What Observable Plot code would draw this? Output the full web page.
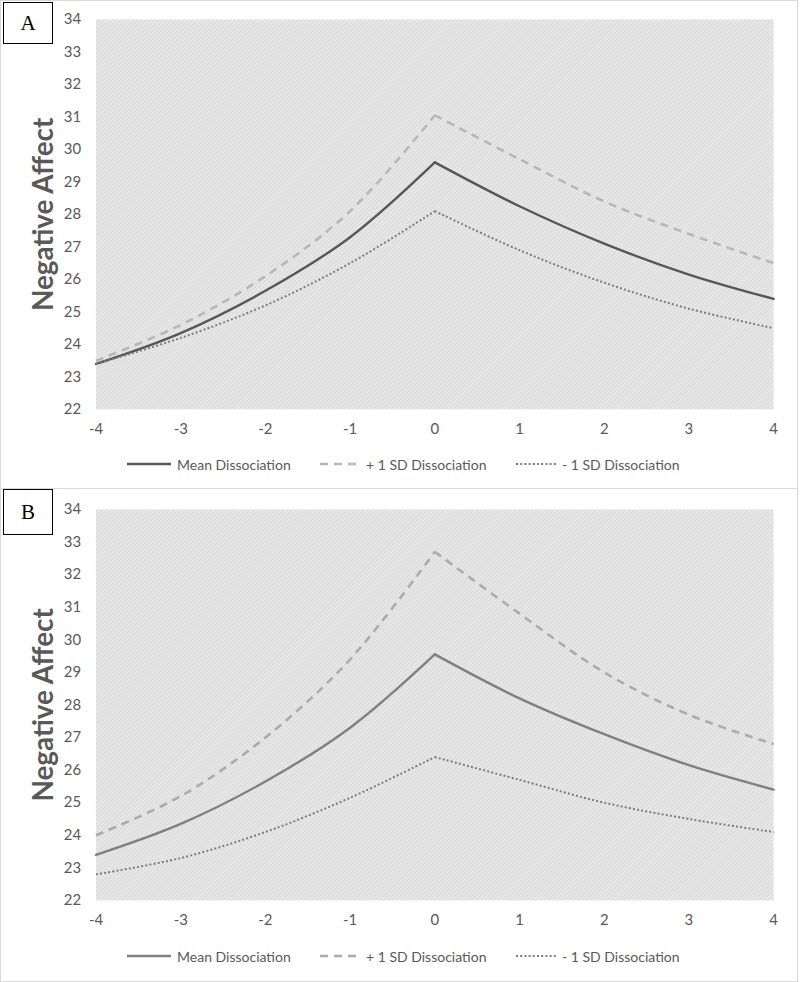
<!DOCTYPE html>
<html>
<head>
<meta charset="utf-8">
<script src="https://cdn.jsdelivr.net/npm/d3@7"></script>
<script src="https://cdn.jsdelivr.net/npm/@observablehq/plot@0.6"></script>
<style>
  html, body { margin: 0; padding: 0; background: #fff; }
  body { width: 800px; height: 982px; position: relative; font-family: Lato, "Open Sans", sans-serif; }
  .panel { position: absolute; left: 0; width: 798px; border: 1px solid #d9d9d9; box-sizing: border-box; background: #fff; }
  .tag { position: absolute; left: 2px; width: 50px; border: 1.3px solid #000; box-sizing: border-box;
         font-family: "Liberation Serif", "DejaVu Serif", serif; font-size: 21px; display: flex; align-items: center; justify-content: center; background: #fff; z-index: 2; }
  .legend { position: absolute; left: 0; width: 800px; font-size: 14px; color: #595959; font-family: Lato, sans-serif; }
  .legend .item { position: absolute; top: 0; display: flex; align-items: center; white-space: nowrap; }
  .legend svg { margin-right: 5px; }
  g[aria-label="y-axis label"] text { font-size: 28px; font-weight: bold; fill: #595959; }
</style>
</head>
<body>
<div id="root"></div>
<script>
// ---- data ----
const xValues = [-4, -3, -2, -1, 0, 1, 2, 3, 4];
const xTickLabels = ["-4", "-3", "-2", "-1", "0", "1", "2", "3", "4"];
const yTicks = [22, 23, 24, 25, 26, 27, 28, 29, 30, 31, 32, 33, 34];
const seriesNames = ["Mean Dissociation", "+ 1 SD Dissociation", "- 1 SD Dissociation"];

const meanA  = [23.4, 24.35, 25.65, 27.3, 29.6, 28.25, 27.1, 26.15, 25.4];
const plusA  = [23.5, 24.6, 26.1, 28.1, 31.05, 29.7, 28.4, 27.4, 26.5];
const minusA = [23.4, 24.2, 25.2, 26.5, 28.1, 26.9, 25.9, 25.1, 24.5];

const meanB  = [23.4, 24.35, 25.65, 27.3, 29.55, 28.2, 27.1, 26.15, 25.4];
const plusB  = [24.0, 25.2, 27.0, 29.4, 32.7, 30.8, 29.0, 27.7, 26.8];
const minusB = [22.8, 23.3, 24.1, 25.15, 26.4, 25.7, 25.0, 24.5, 24.1];

const panelLabels = ["A", "B"];

// ---- helpers ----
function buildRows(seriesArrays) {
  const rows = [];
  seriesArrays.forEach((vals, si) => {
    xValues.forEach((x, i) => {
      // split into left and right branches (shared point at 0) so the peak stays sharp
      if (x <= 0) rows.push({series: seriesNames[si], seg: seriesNames[si] + "L", x, y: vals[i]});
      if (x >= 0) rows.push({series: seriesNames[si], seg: seriesNames[si] + "R", x, y: vals[i]});
    });
  });
  return rows;
}

function hatchDefs(svg, id) {
  const ns = "http://www.w3.org/2000/svg";
  const defs = document.createElementNS(ns, "defs");
  defs.innerHTML = `<pattern id="${id}" patternUnits="userSpaceOnUse" width="3" height="3" patternTransform="rotate(45)">
      <rect width="3" height="3" fill="#e8e8e8"/>
      <rect width="1.2" height="3" fill="#dadada"/>
    </pattern>`;
  svg.insertBefore(defs, svg.firstChild);
}

const styles = [
  { // panel A
    colors: ["#575757", "#b8b8b8", "#7d7d7d"],
    widths: [2.4, 2.6, 2],
    dashes: [null, "8,6", "2,2.2"]
  },
  { // panel B
    colors: ["#808080", "#acacac", "#7d7d7d"],
    widths: [2.4, 2.6, 2],
    dashes: [null, "8,6", "2,2.2"]
  }
];

const panels = [
  {top: 0, height: 489, svgH: 445, mTop: 19, mBottom: 34, legendTop: 464, data: [meanA, plusA, minusA]},
  {top: 488, height: 494, svgH: 447, mTop: 21, mBottom: 33, legendTop: 468, data: [meanB, plusB, minusB]}
];

const root = document.getElementById("root");
panels.forEach((p, pi) => {
  const panel = document.createElement("div");
  panel.className = "panel";
  panel.style.top = p.top + "px";
  panel.style.height = p.height + "px";
  root.appendChild(panel);

  const tag = document.createElement("div");
  tag.className = "tag";
  tag.style.top = (pi === 0 ? 1 : 0) + "px";
  tag.style.height = (pi === 0 ? 42 : 46) + "px";
  tag.textContent = panelLabels[pi];
  panel.appendChild(tag);

  const rows = buildRows(p.data);
  const st = styles[pi];
  const hid = "hatch" + pi;

  const plot = Plot.plot({
    width: 800,
    height: p.svgH,
    marginLeft: 96,
    marginRight: 23,
    marginTop: p.mTop,
    marginBottom: p.mBottom,
    style: {fontFamily: "Lato, 'Open Sans', sans-serif", fontSize: "15px", color: "#595959", background: "transparent", overflow: "visible"},
    x: {domain: [-4, 4]},
    y: {domain: [22, 34]},
    marks: [
      Plot.frame({fill: `url(#${hid})`, stroke: null}),
      Plot.axisX({ticks: xValues, tickFormat: (d) => xTickLabels[xValues.indexOf(d)], tickSize: 0, tickPadding: 14, label: null}),
      Plot.axisY({ticks: yTicks, tickFormat: (d) => String(d), tickSize: 0, tickPadding: 15, label: "Negative Affect", labelAnchor: "center", labelOffset: 63, labelArrow: false}),
      ...seriesNames.map((name, si) =>
        Plot.line(rows.filter(r => r.series === name), {
          x: "x", y: "y", z: "seg",
          curve: "catmull-rom",
          stroke: st.colors[si],
          strokeWidth: st.widths[si],
          strokeDasharray: st.dashes[si],
          strokeLinecap: si === 0 ? "round" : "butt"
        })
      )
    ]
  });
  hatchDefs(plot, hid);
  plot.style.position = "absolute";
  plot.style.left = "-1px";
  plot.style.top = "-1px";
  panel.appendChild(plot);

  // legend
  const legend = document.createElement("div");
  legend.className = "legend";
  legend.style.top = p.legendTop + "px";
  legend.style.left = "-1px";
  const lefts = [126, 319, 515];
  seriesNames.forEach((name, si) => {
    const item = document.createElement("div");
    item.className = "item";
    item.style.left = lefts[si] + "px";
    item.style.top = "-10px";
    item.innerHTML = `<svg width="${si === 0 ? 46 : 42}" height="18"><line x1="1" x2="${si === 0 ? 45 : 41}" y1="9" y2="9" stroke="${st.colors[si]}" stroke-width="${st.widths[si]}" ${st.dashes[si] ? `stroke-dasharray="${st.dashes[si]}"` : ""}/></svg><span>${name}</span>`;
    legend.appendChild(item);
  });
  panel.appendChild(legend);
});
</script>
</body>
</html>
